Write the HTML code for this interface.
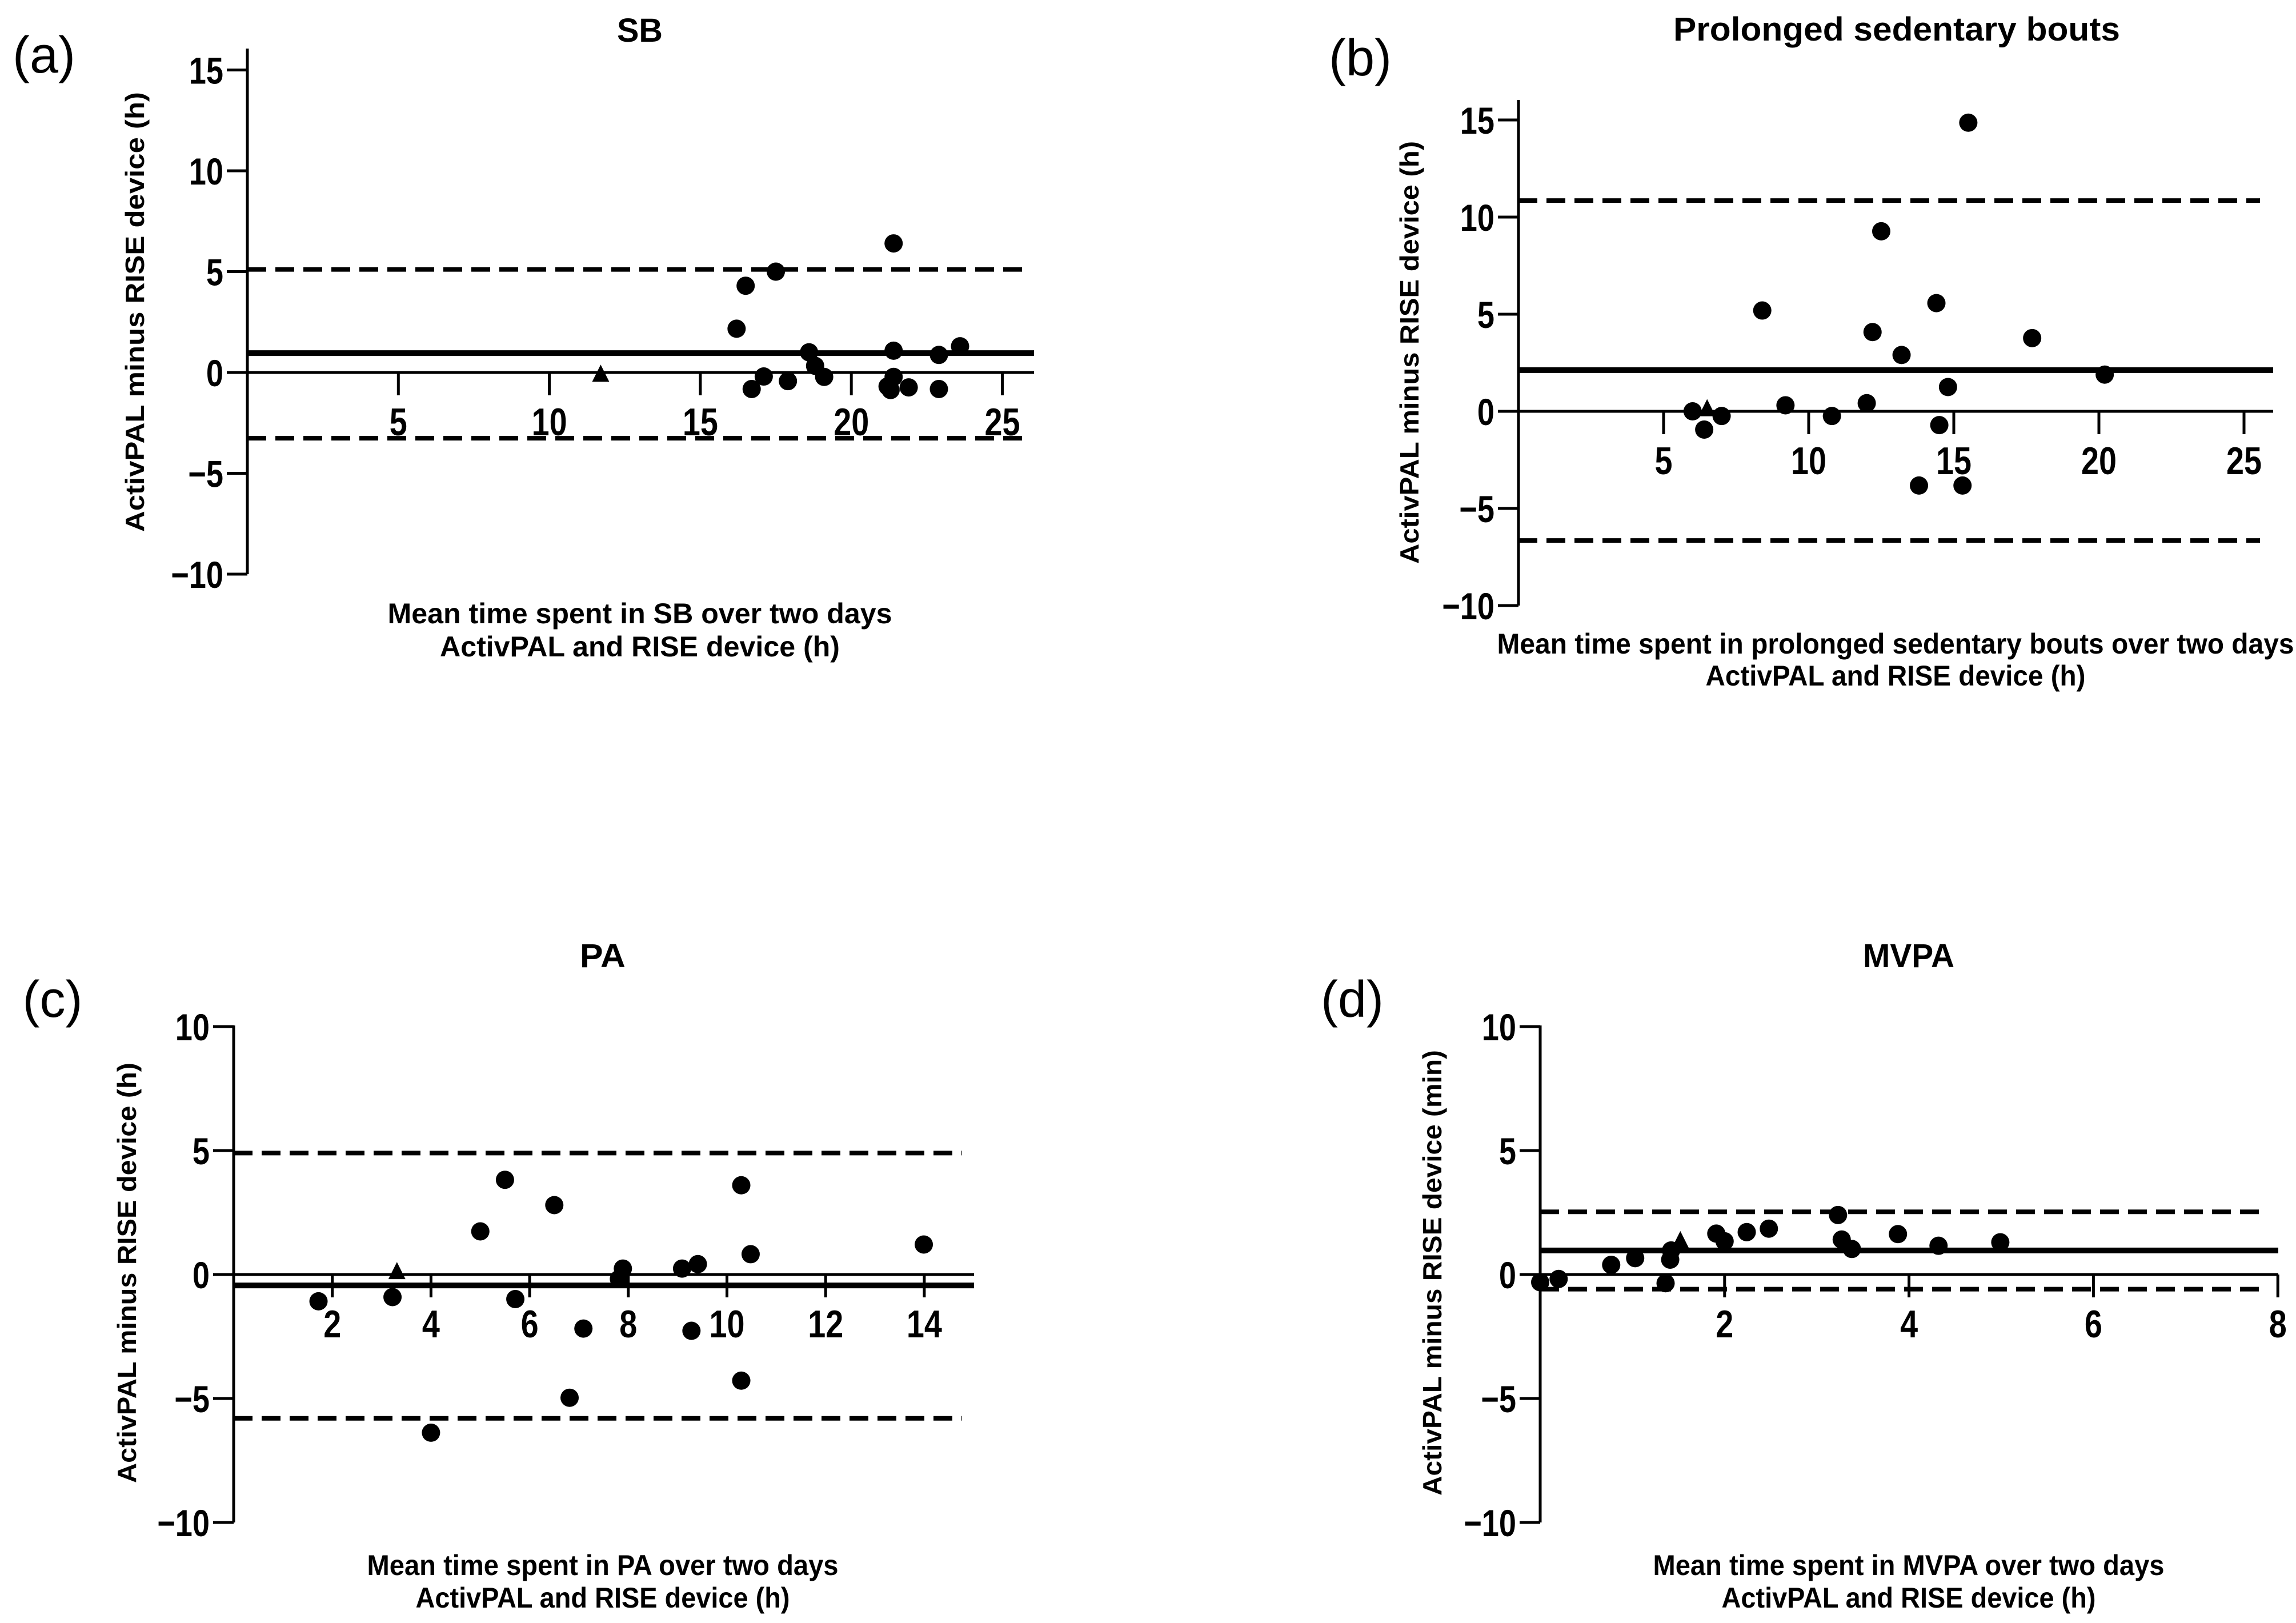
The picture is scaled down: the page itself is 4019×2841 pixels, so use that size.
<!DOCTYPE html>
<html><head><meta charset="utf-8">
<style>
html,body{margin:0;padding:0;background:#fff;}
svg{display:block;}
text{font-family:"Liberation Sans",sans-serif;fill:#000;}
</style></head>
<body>
<svg id="fig" width="4019" height="2841" viewBox="0 0 4019 2841" xmlns="http://www.w3.org/2000/svg"></svg>
<script>
// Panel (a) SB
const aX = [16.2,16.5,17.5,16.7,17.1,17.9,18.6,18.8,19.1,21.4,21.4,21.4,21.2,21.3,21.9,22.9,22.9,23.6];
const aY = [2.17,4.3,5.0,-0.82,-0.2,-0.43,1.0,0.33,-0.22,6.4,1.08,-0.22,-0.69,-0.87,-0.74,0.87,-0.82,1.3];
const aTri = [11.7,-0.12];
const aLines = [0.96,5.11,-3.26];
const aXTicks = [5,10,15,20,25];
const aYTicks = [15,10,5,0,-5,-10];
// Panel (b) Prolonged sedentary bouts
const bX = [6.0,6.4,7.0,8.4,9.2,10.8,12.0,12.2,12.5,13.2,13.8,14.4,14.5,14.8,15.3,15.5,17.7,20.2];
const bY = [0,-0.94,-0.24,5.19,0.31,-0.24,0.42,4.08,9.27,2.9,-3.82,5.57,-0.71,1.25,-3.82,14.86,3.77,1.89];
const bTri = [6.5,0.1];
const bLines = [2.12,10.85,-6.65];
const bXTicks = [5,10,15,20,25];
const bYTicks = [15,10,5,0,-5,-10];
// Panel (c) PA
const cX = [1.72,3.22,4.0,5.0,5.5,5.71,6.5,6.81,7.09,7.81,7.89,9.09,9.28,9.41,10.29,10.29,10.48,13.99];
const cY = [-1.08,-0.91,-6.38,1.74,3.82,-0.99,2.8,-4.97,-2.18,-0.18,0.24,0.24,-2.27,0.42,3.6,-4.28,0.82,1.21];
const cTri = [3.31,0.09];
const cLines = [-0.44,4.9,-5.8];
const cXTicks = [2,4,6,8,10,12,14];
const cYTicks = [10,5,0,-5,-10];
// Panel (d) MVPA
const dX = [0,0.2,0.77,1.03,1.36,1.41,1.42,1.91,2.0,2.24,2.48,3.23,3.27,3.38,3.88,4.32,4.99];
const dY = [-0.31,-0.18,0.39,0.66,-0.35,0.6,0.97,1.65,1.34,1.71,1.85,2.4,1.41,1.03,1.63,1.16,1.3];
const dTri = [1.52,1.34];
const dLines = [0.97,2.53,-0.59];
const dXTicks = [2,4,6,8];
const dYTicks = [10,5,0,-5,-10];

const NS = "http://www.w3.org/2000/svg";
const fig = document.getElementById('fig');
function mk(parent, tag, attrs, txt){
  const e = document.createElementNS(NS, tag);
  for (const k in attrs) e.setAttribute(k, attrs[k]);
  if (txt !== undefined) e.textContent = txt;
  parent.appendChild(e);
  return e;
}

function panel(cfg){
  const g = mk(fig,'g',{});
  
  
  const sx = v => cfg.ax + (v - 0) * cfg.xs;
  const sy = v => cfg.y0 - v * cfg.ys;
  const ax = mk(g,'line',{x1:cfg.ax,y1:cfg.axTop,x2:cfg.ax,y2:sy(cfg.yMin),stroke:'#000','stroke-width':5});
  
  
  cfg.yTicks.forEach(t=>{
    const tk = mk(g,'line',{x1:cfg.ax-36,y1:sy(t),x2:cfg.ax,y2:sy(t),stroke:'#000','stroke-width':5});
    
    
    const lb = mk(g,'text',{x:0,y:0,'text-anchor':'end','font-size':66,'font-weight':'bold',transform:`translate(${cfg.ax-42},${sy(t)+24}) scale(0.82,1)`}, t<0 ? '\u2212'+Math.abs(t) : String(t));
    
    
  });
  const zl = mk(g,'line',{x1:cfg.ax,y1:sy(0),x2:cfg.xEnd,y2:sy(0),stroke:'#000','stroke-width':5});
  
  
  cfg.xTicks.forEach(t=>{
    const tk = mk(g,'line',{x1:sx(t),y1:sy(0),x2:sx(t),y2:sy(0)+40,stroke:'#000','stroke-width':5});
    
    
    const lb = mk(g,'text',{x:0,y:0,'text-anchor':'middle','font-size':68,'font-weight':'bold',transform:`translate(${sx(t)},${sy(0)+110}) scale(0.82,1)`}, String(t));
    
    
  });
  const ml = mk(g,'line',{x1:cfg.ax,y1:sy(cfg.lines[0]),x2:cfg.xEnd,y2:sy(cfg.lines[0]),stroke:'#000','stroke-width':10});
  
  
  [1,2].forEach(i=>{
    const dl = mk(g,'line',{x1:cfg.ax,y1:sy(cfg.lines[i]),x2:cfg.dEnd,y2:sy(cfg.lines[i]),stroke:'#000','stroke-width':8,'stroke-dasharray':'33 16'});
    
    
  });
  cfg.xs_.forEach((v,i)=>{
    const c = mk(g,'circle',{cx:sx(v),cy:sy(cfg.ys_[i]),r:16,fill:'#000'});
    
    
  });
  const tx = sx(cfg.tri[0]), ty = sy(cfg.tri[1]);
  const tr = mk(g,'polygon',{points:`${tx},${ty-18} ${tx-15},${ty+12} ${tx+15},${ty+12}`,fill:'#000'});
  
  
  const tt = mk(g,'text',{x:cfg.titleX,y:cfg.titleY+21,'text-anchor':'middle','font-size':58,'font-weight':'bold',textLength:cfg.titleW,lengthAdjust:'spacingAndGlyphs'}, cfg.title);
  
  
  const pl = mk(g,'text',{x:cfg.labX,y:cfg.labY+32,'text-anchor':'middle','font-size':90}, cfg.lab);
  
  
  const yt = mk(g,'text',{x:0,y:0,'text-anchor':'middle','font-size':46,'font-weight':'bold',textLength:cfg.ytW,lengthAdjust:'spacingAndGlyphs',transform:`translate(${cfg.ytX+17},${cfg.ytY}) rotate(-90)`,'xml:space':'preserve'}, cfg.yt);
  
  
  const x1 = mk(g,'text',{x:cfg.xtX,y:cfg.xtY1+18,'text-anchor':'middle','font-size':50,'font-weight':'bold',textLength:cfg.xtW1,lengthAdjust:'spacingAndGlyphs'}, cfg.xt1);
  
  
  const x2 = mk(g,'text',{x:cfg.xtX,y:cfg.xtY2+18,'text-anchor':'middle','font-size':50,'font-weight':'bold',textLength:cfg.xtW2,lengthAdjust:'spacingAndGlyphs'}, 'ActivPAL and RISE device (h)');
  
  
}

panel({id:'sb',ax:433,y0:652,ys:35.3,xs:52.86,axTop:85,yMin:-10,xEnd:1810,dEnd:1790,
  yTicks:aYTicks,xTicks:aXTicks,lines:aLines,xs_:aX,ys_:aY,tri:aTri,
  title:'SB',titleX:1120,titleY:52,titleW:80,lab:'(a)',labX:77,labY:95,
  yt:'ActivPAL minus RISE device  (h)',ytX:235,ytY:546,ytW:770,
  xt1:'Mean time spent in SB over two days',xtX:1120,xtY1:1073,xtY2:1131,xtW1:883,xtW2:700});
panel({id:'prolonged',ax:2658,y0:720,ys:34.0,xs:50.8,axTop:175,yMin:-10,xEnd:3979,dEnd:3956,
  yTicks:bYTicks,xTicks:bXTicks,lines:bLines,xs_:bX,ys_:bY,tri:bTri,
  title:'Prolonged sedentary bouts',titleX:3320,titleY:50,titleW:782,lab:'(b)',labX:2381,labY:100,
  yt:'ActivPAL minus RISE device  (h)',ytX:2466,ytY:617,ytW:740,
  xt1:'Mean time spent in prolonged sedentary bouts over two days',xtX:3318,xtY1:1126,xtY2:1182,xtW1:1395,xtW2:665});
panel({id:'pa',ax:409,y0:2231,ys:43.4,xs:86.35,axTop:1795,yMin:-10,xEnd:1705,dEnd:1684,
  yTicks:cYTicks,xTicks:cXTicks,lines:cLines,xs_:cX,ys_:cY,tri:cTri,
  title:'PA',titleX:1055,titleY:1672,titleW:80,lab:'(c)',labX:92,labY:1748,
  yt:'ActivPAL minus  RISE device  (h)',ytX:221,ytY:2228,ytW:736,
  xt1:'Mean time spent in PA over two days',xtX:1055,xtY1:2739,xtY2:2796,xtW1:825,xtW2:655});
panel({id:'mvpa',ax:2696,y0:2231,ys:43.4,xs:161.4,axTop:1795,yMin:-10,xEnd:3988,dEnd:3968,
  yTicks:dYTicks,xTicks:dXTicks,lines:dLines,xs_:dX,ys_:dY,tri:dTri,
  title:'MVPA',titleX:3341,titleY:1672,titleW:160,lab:'(d)',labX:2367,labY:1748,
  yt:'ActivPAL minus RISE device  (min)',ytX:2506,ytY:2228,ytW:780,
  xt1:'Mean time spent in MVPA over two days',xtX:3341,xtY1:2739,xtY2:2796,xtW1:895,xtW2:655});
</script>
</body></html>
